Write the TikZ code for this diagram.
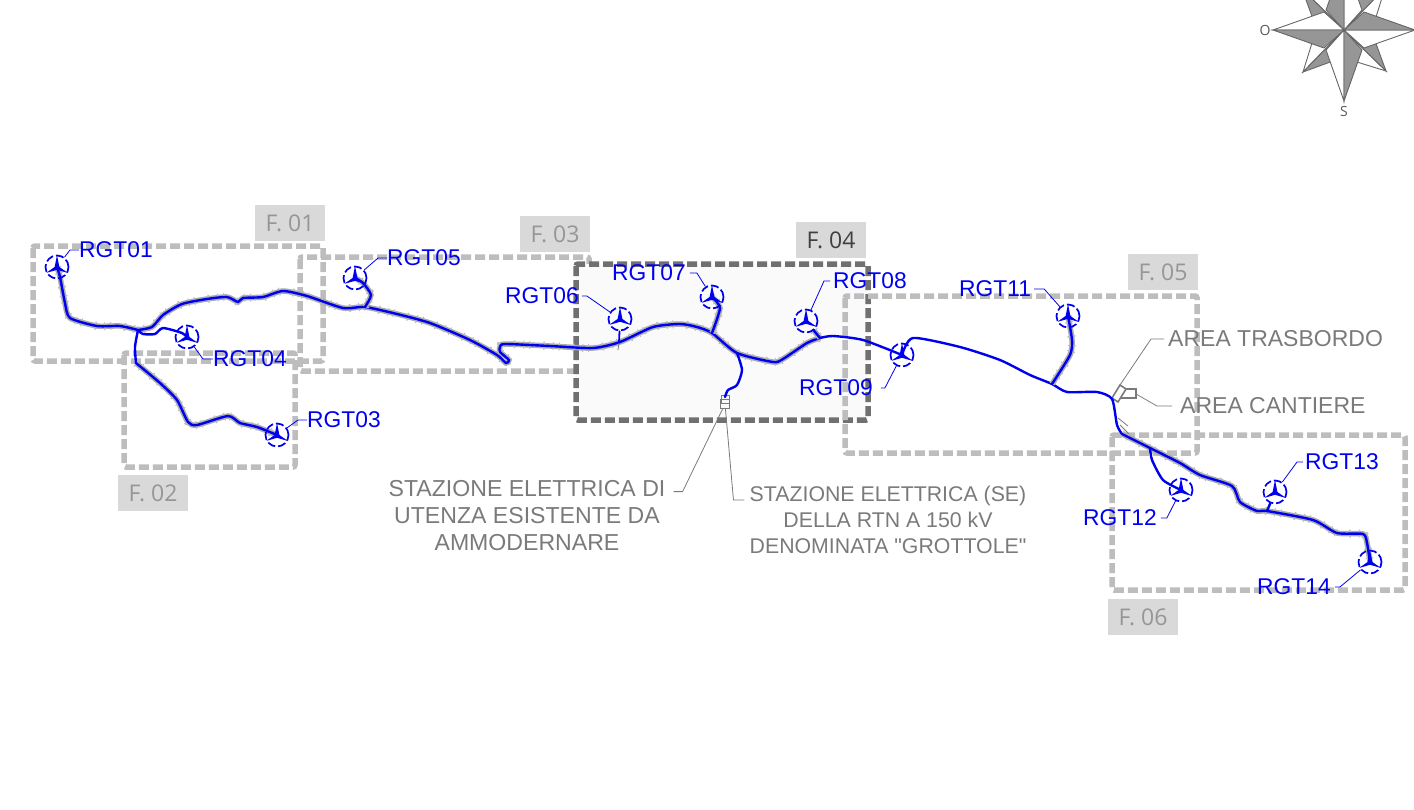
\documentclass[tikz,border=0pt]{standalone}
\usepackage{fontspec}
\setmainfont{Liberation Sans}
\newfontfamily\flabfont{Open Sans}
\newfontfamily\rawfont{Liberation Sans}
\usetikzlibrary{backgrounds}
\definecolor{rgtblue}{HTML}{0000F0}
\definecolor{framegray}{HTML}{BDBDBD}
\definecolor{framedark}{HTML}{707070}
\definecolor{labgray}{HTML}{D9D9D9}
\definecolor{txtgray}{HTML}{7A7A7A}
\definecolor{flabgray}{HTML}{969696}
\definecolor{halogray}{HTML}{ABABAB}
\definecolor{rosegray}{HTML}{969696}
\tikzset{
  turbine/.style={circle,draw=rgtblue,line width=1.7pt,dash pattern=on 8pt off 3pt,minimum size=23pt,inner sep=0pt,
    path picture={\fill[rgtblue,shift={(path picture bounding box.center)}] (-2.4,0) -- (0,-12) -- (2.4,0) -- (11,6) -- (0,2.8) -- (-11,6) -- cycle;}},
  rgtlab/.style={text=rgtblue,inner sep=0pt,font=\fontsize{22.8}{26}\selectfont},
  rgtlead/.style={draw=rgtblue,line width=0.8pt},
  graylab/.style={text=txtgray,inner sep=0pt,align=center},
  graylead/.style={draw=txtgray,line width=0.8pt},
  route/.style={draw=rgtblue,line width=2.4pt,line join=round,line cap=round},
  haloroute/.style={route,preaction={draw=halogray,line width=5.5pt},preaction={draw=halogray!80,line width=8pt,line cap=butt,dash pattern=on 1pt off 5pt on 1pt off 13pt on 1.5pt off 8pt}},
  framebox/.style={draw=framegray,line width=5.5pt,dash pattern=on 10pt off 4pt,rounded corners=2pt},
  flab/.style={fill=labgray,text=flabgray,minimum width=70pt,minimum height=36pt,inner sep=0pt,font=\flabfont\fontsize{23}{26}\selectfont}
}
\begin{document}
\begin{tikzpicture}[x=1pt,y=-1pt]
\useasboundingbox (0,0) rectangle (1414,809);
\clip (0,0) rectangle (1414,809);
% turbines
\node[turbine] (t01) at (57,267) {};
\node[turbine] (t03) at (277,435) {};
\node[turbine] (t04) at (187,337) {};
\node[turbine] (t05) at (355,278) {};
\node[turbine] (t06) at (620,319) {};
\node[turbine] (t07) at (712,297) {};
\node[turbine] (t08) at (806,321) {};
\node[turbine] (t09) at (902,355) {};
\node[turbine] (t11) at (1068,316) {};
\node[turbine] (t12) at (1181,490) {};
\node[turbine] (t13) at (1275,492) {};
\node[turbine] (t14) at (1370,562) {};
% labels
\node[rgtlab,anchor=west] (lab01) at (79,250) {RGT01};
\node[rgtlab,anchor=west] (lab03) at (307,420) {RGT03};
\node[rgtlab,anchor=west] (lab04) at (213,359) {RGT04};
\node[rgtlab,anchor=west] (lab05) at (387,258) {RGT05};
\node[rgtlab,anchor=west] (lab06) at (505,296) {RGT06};
\node[rgtlab,anchor=west] (lab07) at (612,273) {RGT07};
\node[rgtlab,anchor=west] (lab08) at (833,281) {RGT08};
\node[rgtlab,anchor=west] (lab09) at (799,388) {RGT09};
\node[rgtlab,anchor=west] (lab11) at (959,289) {RGT11};
\node[rgtlab,anchor=west] (lab12) at (1083,518) {RGT12};
\node[rgtlab,anchor=west] (lab13) at (1305,462) {RGT13};
\node[rgtlab,anchor=west] (lab14) at (1257,587) {RGT14};
\draw[rgtlead] (lab01.west) -- ++(-9,0) -- (t01);
\draw[rgtlead] (lab03.west) -- ++(-9,0) -- (t03);
\draw[rgtlead] (lab04.west) -- ++(-10,0) -- (t04);
\draw[rgtlead] (lab05.west) -- ++(-9,0) -- (t05);
\draw[rgtlead] (lab06.east) ++(3,0) -- ++(5,0) -- (t06);
\draw[rgtlead] (lab07.east) ++(4,0) -- ++(7,0) -- (t07);
\draw[rgtlead] (lab08.west) ++(-3,0) -- ++(-6,0) -- (t08);
\draw[rgtlead] (lab09.east) ++(8,0) -- ++(4,0) -- (t09);
\draw[rgtlead] (lab11.east) ++(3,0) -- ++(10,0) -- (t11);
\draw[rgtlead] (lab12.east) ++(4,0) -- ++(6,0) -- (t12);
\draw[rgtlead] (lab13.west) ++(-2,0) -- ++(-6,0) -- (t13);
\draw[rgtlead] (lab14.east) ++(4,0) -- ++(5,0) -- (t14);
% gray texts
\node[graylab,font=\fontsize{23.1}{27}\selectfont] (utenza) at (527,516) {STAZIONE ELETTRICA DI\\UTENZA ESISTENTE DA\\AMMODERNARE};
\node[graylab,font=\fontsize{21.3}{26}\selectfont] (rtn) at (888,520) {STAZIONE ELETTRICA (SE)\\DELLA RTN A 150 kV\\DENOMINATA {\rawfont "}GROTTOLE{\rawfont "}};
\node[graylab,anchor=west,font=\fontsize{23}{27}\selectfont] (trasb) at (1168,339) {AREA TRASBORDO};
\node[graylab,anchor=west,font=\fontsize{23}{27}\selectfont] (cant) at (1180,406) {AREA CANTIERE};
% frame labels
\node[flab] (l01) at (290,223) {F. 01};
\node[flab] (l02) at (153,493) {F. 02};
\node[flab] (l03) at (555,234) {F. 03};
\node[flab,text=black!75] (l04) at (831,240) {F. 04};
\node[flab] (l05) at (1163,272) {F. 05};
\node[flab] (l06) at (1143,617) {F. 06};
\begin{scope}[on background layer]
% frames
\draw[framebox] (33,246) rectangle (323,361);
\draw[framebox] (124,353) rectangle (295,467);
\draw[framebox] (300,257) rectangle (589,371);
\draw[framebox,draw=framedark,fill=black!2] (576,264) rectangle (868,420);
\draw[framebox] (845,296) rectangle (1197,453);
\draw[framebox] (1112,435) rectangle (1405,590);
% junctions
\coordinate (j01) at (138,330);
\coordinate (j05) at (365,307);
\coordinate (j07) at (712,333);
\coordinate (jse) at (737,353);
\coordinate (j08) at (820,338);
\coordinate (j11) at (1052,384);
\coordinate (j12) at (1150,448);
\coordinate (j13) at (1267,511);
% substations and areas
\node[draw=txtgray,line width=1pt,minimum size=8pt,inner sep=0pt] (se1) at (725,399) {};
\node[draw=txtgray,line width=1.2pt,minimum size=9pt,inner sep=0pt] (se2) at (725,404) {};
\coordinate (at) at (1120,385);
\coordinate (ac) at (1136,394);
\draw[draw=txtgray,line width=1.6pt] (1112,398) -- (1120,385) -- (1126,389) -- (1118,402) -- cycle;
\draw[draw=txtgray,line width=1.6pt] (1125,389) -- (1136,389) -- (1136,398) -- (1121,398);
\draw[graylead] (trasb.west) ++(-4,0) -- ++(-13,0) -- (at);
\draw[graylead] (cant.west) ++(-8,0) -- ++(-15,0) -- (ac);
\draw[graylead] (utenza.north east) ++(8,11) -- ++(9,0) -- (se2);
\draw[graylead] (rtn.north west) ++(-5,14) -- ++(-11,0) -- (se2);
\draw[graylead] (1118,418) -- (1128,426) (1120,425) -- (1130,435) (1148,445) -- (1152,454);
% routes
\draw[haloroute] plot[smooth,tension=0.4] coordinates {(t01) (60,277) (65,303) (70,318) (97,326) (120,326) (j01)};
\draw[haloroute] plot[smooth,tension=0.4] coordinates {(j01) (152,327) (163,315) (182,304) (207,299) (227,297) (238,302) (243,298) (263,297) (283,291) (307,296) (343,308) (j05) (397,314) (430,323) (470,340) (497,355) (506,363) (509,360) (500,352) (500,347) (505,344) (550,346) (593,348) (620,342) (653,327) (680,324) (697,327) (j07) (jse) (773,362) (783,359) (807,343) (j08)};
\draw[route] plot[smooth,tension=0.4] coordinates {(j01) (143,334) (155,334) (163,328) (182,333) (t04)};
\draw[route] plot[smooth,tension=0.4] coordinates {(j01) (135,347) (136,363)};
\draw[haloroute] plot[smooth,tension=0.4] coordinates {(136,363) (160,383) (177,400) (188,422) (197,425) (228,416) (240,423) (257,427) (t03)};
\draw[haloroute] plot[smooth,tension=0.4] coordinates {(t05) (363,283) (371,295) (j05)};
\draw[route,line width=1.8pt] (t06) -- (619,343);
\draw[graylead] (619,343) -- (618,350);
\draw[haloroute] plot[smooth,tension=0.4] coordinates {(t07) (720,308) (j07)};
\draw[route] plot[smooth,tension=0.4] coordinates {(jse) (742,370) (737,385) (728,390) (725,397)};
\draw[haloroute] (t08) -- (j08);
\draw[route] plot[smooth,tension=0.4] coordinates {(j08) (833,336) (863,340) (t09)};
\draw[route] plot[smooth,tension=0.4] coordinates {(t09) (913,338) (960,347) (1000,360) (1030,375) (j11) (1067,392) (1097,392) (1112,399) (1117,425) (1122,434)};
\draw[haloroute] plot[smooth,tension=0.4] coordinates {(t11) (1072,340) (1070,355) (j11)};
\draw[haloroute] plot[smooth,tension=0.4] coordinates {(1122,434) (j12) (1180,463) (1200,475) (1232,486) (1240,502) (1257,511) (j13) (1313,520) (1337,533) (1363,534) (1367,543) (t14)};
\draw[route] plot[smooth,tension=0.4] coordinates {(j12) (1152,460) (1163,480) (t12)};
\draw[route] (t13) -- (j13);
\end{scope}
% compass rose
\begin{scope}[shift={(1344,30)}]
\foreach \a in {0,90,180,270} {
  \filldraw[rotate=\a,draw=black!60,line width=0.9pt,fill=white] (0,0) -- (-41,42) -- (-28,0) -- cycle;
  \filldraw[rotate=\a,draw=black!60,line width=0.9pt,fill=rosegray] (0,0) -- (-41,42) -- (0,27) -- cycle;
}
\foreach \a in {0,90,180,270} {
  \filldraw[rotate=\a,draw=black!60,line width=0.9pt,fill=white] (0,0) -- (0,71) -- (-18,20) -- cycle;
  \filldraw[rotate=\a,draw=black!60,line width=0.9pt,fill=rosegray] (0,0) -- (0,71) -- (18,20) -- cycle;
}
\end{scope}
\node[text=black!65,inner sep=0pt,font=\flabfont\fontsize{14}{16}\selectfont] (ovest) at (1265,30) {O};
\node[text=black!65,inner sep=0pt,font=\flabfont\fontsize{14}{16}\selectfont] (sud) at (1344,111) {S};
\end{tikzpicture}
\end{document}
